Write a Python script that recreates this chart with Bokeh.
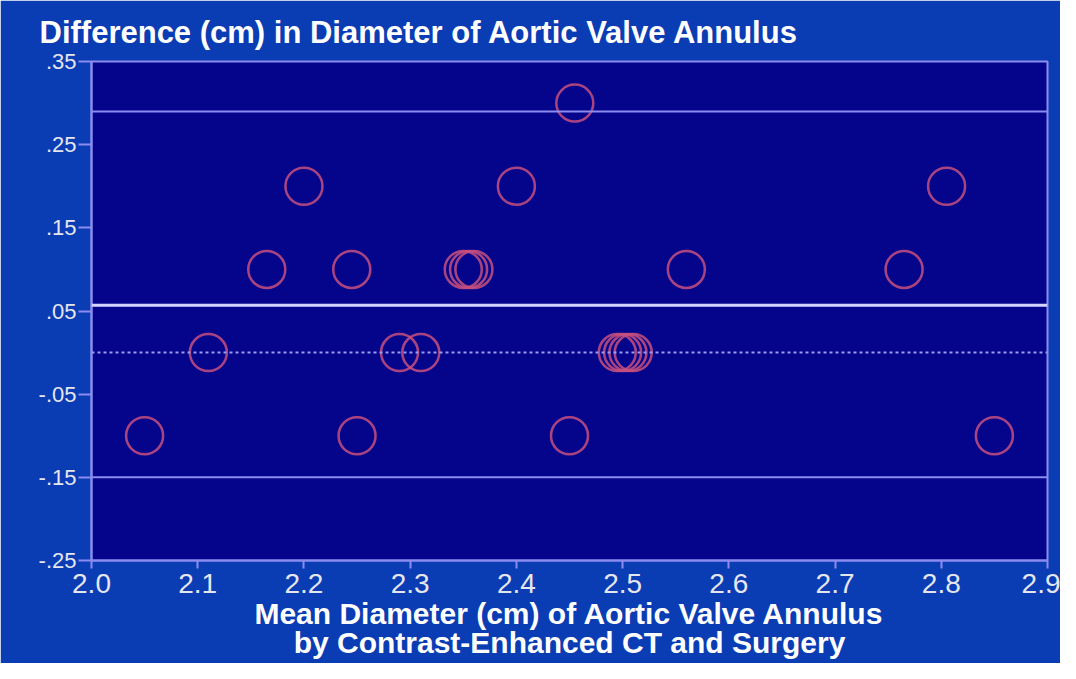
from bokeh.plotting import figure
from bokeh.models import Span, FixedTicker, Title, ColumnDataSource
from bokeh.embed import file_html
from bokeh.resources import INLINE

# Data
mean_diam = [2.05, 2.11, 2.165, 2.20, 2.245, 2.25, 2.29, 2.31, 2.35, 2.355, 2.36,
             2.40, 2.455, 2.45, 2.495, 2.50, 2.505, 2.51, 2.56, 2.765, 2.805, 2.85]
diff_cm = [-0.10, 0.0, 0.10, 0.20, 0.10, -0.10, 0.0, 0.0, 0.10, 0.10, 0.10,
           0.20, 0.30, -0.10, 0.0, 0.0, 0.0, 0.0, 0.10, 0.10, 0.20, -0.10]
upper_limit = 0.29
mean_diff = 0.057
lower_limit = -0.15
zero_line = 0.0

x_ticks = [2.0, 2.1, 2.2, 2.3, 2.4, 2.5, 2.6, 2.7, 2.8, 2.9]
x_tick_labels = ["2.0", "2.1", "2.2", "2.3", "2.4", "2.5", "2.6", "2.7", "2.8", "2.9"]
y_ticks = [0.35, 0.25, 0.15, 0.05, -0.05, -0.15, -0.25]
y_tick_labels = [".35", ".25", ".15", ".05", "-.05", "-.15", "-.25"]

title_text = "Difference (cm) in Diameter of Aortic Valve Annulus"
xlabel_1 = "Mean Diameter (cm) of Aortic Valve Annulus"
xlabel_2 = "by Contrast-Enhanced CT and Surgery"

OUTER = "#0a3cb4"
INNER = "#05058c"
LAV = "#8c8cf0"
TXT = "#e6e6ee"
FONT = "Liberation Sans"

p = figure(width=1060, height=663, x_range=(2.0, 2.9), y_range=(-0.25, 0.35),
           output_backend="svg", toolbar_location=None,
           min_border_left=91, min_border_right=13, min_border_top=61, min_border_bottom=103)
p.background_fill_color = INNER
p.border_fill_color = OUTER
p.outline_line_color = LAV
p.outline_line_width = 2
p.grid.visible = False

p.title.text = title_text
p.title.text_color = "white"
p.title.text_font = FONT
p.title.text_font_style = "bold"
p.title.text_font_size = "31px"
p.title.align = "left"
p.title.offset = -52
p.title.standoff = 24

for ax in (p.xaxis[0], p.yaxis[0]):
    ax.axis_line_color = LAV
    ax.axis_line_width = 2
    ax.major_tick_line_color = LAV
    ax.major_tick_line_width = 2
    ax.major_tick_in = 0
    ax.minor_tick_line_color = None
    ax.major_label_text_color = TXT
    ax.major_label_text_font = FONT

p.xaxis[0].ticker = FixedTicker(ticks=x_ticks)
p.xaxis[0].major_label_overrides = dict(zip(x_ticks, x_tick_labels))
p.xaxis[0].major_label_text_font_size = "28px"
p.xaxis[0].major_tick_out = 8
p.xaxis[0].major_label_standoff = 5
p.yaxis[0].ticker = FixedTicker(ticks=y_ticks)
p.yaxis[0].major_label_overrides = dict(zip(y_ticks, y_tick_labels))
p.yaxis[0].major_label_text_font_size = "22px"
p.yaxis[0].major_tick_out = 13
p.yaxis[0].major_label_standoff = 2

p.add_layout(Span(location=upper_limit, dimension="width", line_color=LAV, line_width=2))
p.add_layout(Span(location=lower_limit, dimension="width", line_color=LAV, line_width=2))
p.add_layout(Span(location=mean_diff, dimension="width", line_color="#d4d4ff", line_width=3))
p.add_layout(Span(location=zero_line, dimension="width", line_color="#9a9af0",
                  line_width=2, line_dash="3 3"))

src = ColumnDataSource(dict(x=mean_diam, y=diff_cm))
p.scatter("x", "y", source=src, size=37, marker="circle", fill_color=None,
          line_color="#c8507e", line_width=2.5, line_alpha=0.85)

t1 = Title(text=xlabel_1, align="center", text_color="white", text_font=FONT,
           text_font_style="bold", text_font_size="30px", standoff=-2)
t2 = Title(text=xlabel_2, align="center", text_color="white", text_font=FONT,
           text_font_style="bold", text_font_size="30px", standoff=-10)
p.add_layout(t1, "below")
p.add_layout(t2, "below")

open("out.html", "w").write(file_html(p, INLINE))
